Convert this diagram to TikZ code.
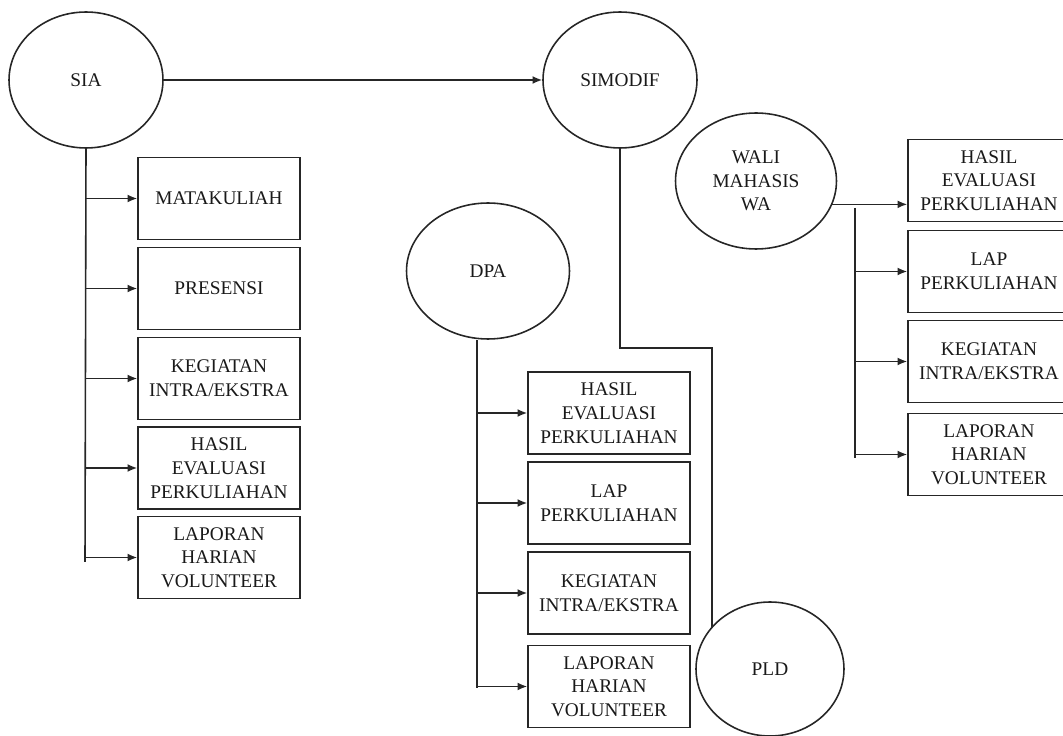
\documentclass[tikz,border=0pt]{standalone}
\usepackage{fontspec}
\setmainfont{Liberation Serif}
\usetikzlibrary{shapes.geometric,arrows.meta}

\begin{document}
\begin{tikzpicture}[x=0.02cm, y=-0.02cm, line width=0.9pt, draw=black!85,
		>={Latex[length=5.5pt,width=4.5pt]},
		every node/.style={font=\fontsize{11}{13.5}\selectfont, text=black!90},
		sistem/.style={draw, ellipse, inner sep=0pt, align=center},
		menu/.style={draw, rectangle, inner sep=0pt, align=center, minimum width=3.24cm, minimum height=1.64cm}]
		      		\clip (0,0) rectangle (1063,736);

		      		% sistem
		      		\node[sistem, minimum width=3.08cm, minimum height=2.72cm] (sia) at (86,80) {SIA};
		      		\node[sistem, minimum width=3.08cm, minimum height=2.72cm] (simodif) at (620,80) {SIMODIF};
		      		\node[sistem, minimum width=3.26cm, minimum height=2.72cm] (dpa) at (488,271) {DPA};
		      		\node[sistem, minimum width=3.22cm, minimum height=2.72cm] (wali) at (756,181) {WALI\\MAHASIS\\WA};
		      		\node[sistem, minimum width=2.96cm, minimum height=2.68cm] (pld) at (770,669) {PLD};

		      		% menu SIA
		      		\node[menu] (siamk) at (219,198.5) {MATAKULIAH};
		      		\node[menu] (siapr) at (219,288.5) {PRESENSI};
		      		\node[menu] (siakg) at (219,378.5) {KEGIATAN\\INTRA/EKSTRA};
		      		\node[menu] (siahe) at (219,468) {HASIL\\EVALUASI\\PERKULIAHAN};
		      		\node[menu] (sialh) at (219,557.5) {LAPORAN\\HARIAN\\VOLUNTEER};

		      		% menu DPA
		      		\node[menu] (dpahe) at (609,413) {HASIL\\EVALUASI\\PERKULIAHAN};
		      		\node[menu] (dpalp) at (609,503) {LAP\\PERKULIAHAN};
		      		\node[menu] (dpakg) at (609,593) {KEGIATAN\\INTRA/EKSTRA};
		      		\node[menu] (dpalh) at (609,686.5) {LAPORAN\\HARIAN\\VOLUNTEER};

		      		% menu wali mahasiswa
		      		\node[menu] (walihe) at (989,180.5) {HASIL\\EVALUASI\\PERKULIAHAN};
		      		\node[menu] (walilp) at (989,271.5) {LAP\\PERKULIAHAN};
		      		\node[menu] (walikg) at (989,361.5) {KEGIATAN\\INTRA/EKSTRA};
		      		\node[menu] (walilh) at (989,454.5) {LAPORAN\\HARIAN\\VOLUNTEER};

		      		\coordinate (siabus) at (85,562);
		      		\coordinate (dpabus) at (477,688);
		      		\coordinate (belok) at (712,348);
		      		\coordinate (walitop) at (855,208);
		      		\coordinate (walibot) at (855,458);

		      		\draw[->] (sia.east) -- (simodif.west);

		      		\draw (sia.south) -- (siabus);
		      		\draw[->] (siabus |- siamk.west) -- (siamk.west);
		      		\draw[->] (siabus |- siapr.west) -- (siapr.west);
		      		\draw[->] (siabus |- siakg.west) -- (siakg.west);
		      		\draw[->] (siabus |- siahe.west) -- (siahe.west);
		      		\draw[->] (siabus |- sialh.west) -- (sialh.west);

		      		\draw (dpabus |- dpa.south) -- (dpabus);
		      		\draw[->] (dpabus |- dpahe.west) -- (dpahe.west);
		      		\draw[->] (dpabus |- dpalp.west) -- (dpalp.west);
		      		\draw[->] (dpabus |- dpakg.west) -- (dpakg.west);
		      		\draw[->] (dpabus |- dpalh.west) -- (dpalh.west);

		      		\draw (simodif.south) |- (belok) -- (belok |- pld.145);

		      		\draw[->] (wali.-17) -- (wali.-17 -| walihe.west);
		      		\draw (walitop) -- (walibot);
		      		\draw[->] (walitop |- walilp.west) -- (walilp.west);
		      		\draw[->] (walitop |- walikg.west) -- (walikg.west);
		      		\draw[->] (walitop |- walilh.west) -- (walilh.west);
		      	\end{tikzpicture}
\end{document}
